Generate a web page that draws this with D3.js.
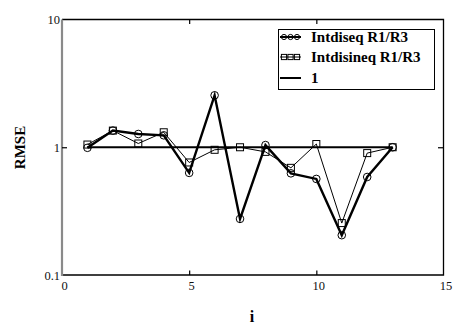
<!DOCTYPE html>
<meta charset="utf-8">
<script src="https://cdn.jsdelivr.net/npm/d3@7"></script>
<style>
body { margin: 0; background: #fff; }
.axis path.domain { display: none; }
.axis line { stroke: #000; }
</style>
<body>
<script>
// data
var idx = [1, 2, 3, 4, 5, 6, 7, 8, 9, 10, 11, 12, 13];
var intdiseq = [0.99, 1.35, 1.27, 1.24, 0.63, 2.55, 0.275, 1.04, 0.625, 0.565, 0.205, 0.585, 1.0];
var intdisineq = [1.05, 1.35, 1.07, 1.31, 0.76, 0.955, 1.0, 0.92, 0.69, 1.06, 0.255, 0.9, 1.0];
var one = [1, 1, 1, 1, 1, 1, 1, 1, 1, 1, 1, 1, 1];
var xTicks = [0, 5, 10, 15];
var yTicks = [0.1, 1, 10];
var legendNames = ["Intdiseq R1/R3", "Intdisineq R1/R3", "1"];

var W = 463, H = 334;
var L = 62, R = 443.5, T = 19.5, B = 275;
var serif = "'Liberation Serif', 'Times New Roman', serif";

var svg = d3.select("body").append("svg")
  .attr("width", W).attr("height", H)
  .style("font-family", serif);

var x = d3.scaleLinear().domain([0, 15]).range([L, R]);
var y = d3.scaleLog().domain([0.1, 10]).range([B, T]);

// frame (top, right, bottom black; left gray)
svg.append("path")
  .attr("d", "M" + L + "," + T + "H" + R + "V" + B + "H" + L)
  .attr("fill", "none").attr("stroke", "#000").attr("stroke-width", 1.3);
svg.append("line")
  .attr("x1", L).attr("x2", L).attr("y1", T).attr("y2", B + 1)
  .attr("stroke", "#8a8a8a").attr("stroke-width", 2.2);

// bottom axis (ticks inside)
var xa = svg.append("g").attr("class", "axis")
  .attr("transform", "translate(0," + B + ")")
  .call(d3.axisBottom(x).tickValues(xTicks).tickSize(-4.5).tickPadding(6).tickFormat(d3.format("d")));
xa.selectAll(".tick line").attr("stroke-width", 1.2)
  .filter(function(d) { return d == 0 || d == 15; }).remove();
xa.selectAll(".tick text").attr("dx", 2);

// top ticks
svg.append("g").attr("class", "axis")
  .attr("transform", "translate(0," + T + ")")
  .call(d3.axisTop(x).tickValues([5, 10]).tickSize(-4.5).tickFormat(""))
  .selectAll("line").attr("stroke-width", 1.2);

// left axis
var ya = svg.append("g").attr("class", "axis")
  .attr("transform", "translate(" + L + ",0)")
  .call(d3.axisLeft(y).tickValues(yTicks).tickSize(-5).tickPadding(2).tickFormat(function(d) { return d; }));
ya.selectAll(".tick line").attr("stroke-width", 1.2)
  .filter(function(d) { return d != 1; }).remove();
ya.selectAll(".tick text").attr("x", -2);

svg.selectAll(".axis").attr("font-family", null);
svg.selectAll(".tick text")
  .style("font-family", serif).style("font-size", "12.5px").attr("fill", "#111");

// right ticks
svg.append("g").attr("class", "axis")
  .attr("transform", "translate(" + R + ",0)")
  .call(d3.axisRight(y).tickValues([1]).tickSize(-5.5).tickFormat(""))
  .selectAll("line").attr("stroke-width", 1.2);

// axis titles
svg.append("text").text("i")
  .attr("x", 252).attr("y", 322)
  .attr("text-anchor", "middle").attr("font-weight", "bold")
  .style("font-family", serif).style("font-size", "16px");
svg.append("text").text("RMSE")
  .attr("transform", "translate(25,147.5) rotate(-90)")
  .attr("text-anchor", "middle").attr("font-weight", "bold")
  .style("font-family", serif).style("font-size", "15px");

var line = d3.line().x(function(d) { return x(d[0]); }).y(function(d) { return y(d[1]); });
function pairs(vals) { return idx.map(function(d, i) { return [d, vals[i]]; }); }

// series
svg.append("path").datum(pairs(one)).attr("d", line)
  .attr("fill", "none").attr("stroke", "#000").attr("stroke-width", 2.2);
svg.append("path").datum(pairs(intdisineq)).attr("d", line)
  .attr("fill", "none").attr("stroke", "#000").attr("stroke-width", 1);
svg.append("path").datum(pairs(intdiseq)).attr("d", line)
  .attr("fill", "none").attr("stroke", "#000").attr("stroke-width", 2.4);

svg.selectAll(".sq").data(pairs(intdisineq)).enter().append("rect")
  .attr("x", function(d) { return x(d[0]) - 3.5; })
  .attr("y", function(d) { return y(d[1]) - 3.5; })
  .attr("width", 7).attr("height", 7)
  .attr("fill", "none").attr("stroke", "#000").attr("stroke-width", 1);
svg.selectAll(".ci").data(pairs(intdiseq)).enter().append("circle")
  .attr("cx", function(d) { return x(d[0]); })
  .attr("cy", function(d) { return y(d[1]); })
  .attr("r", 3.8)
  .attr("fill", "none").attr("stroke", "#000").attr("stroke-width", 1);

// legend
var lg = svg.append("g");
lg.append("rect").attr("x", 278.5).attr("y", 29.5).attr("width", 156).attr("height", 60)
  .attr("fill", "#fff").attr("stroke", "#000").attr("stroke-width", 1);
var rowY = [37, 57, 78];
legendNames.forEach(function(name, i) {
  var yy = rowY[i];
  lg.append("line").attr("x1", 280).attr("x2", 301).attr("y1", yy).attr("y2", yy)
    .attr("stroke", "#000").attr("stroke-width", i == 1 ? 1 : 2);
  [284, 290.5, 297].forEach(function(cx) {
    if (i == 0) lg.append("circle").attr("cx", cx).attr("cy", yy).attr("r", 2.6)
      .attr("fill", "none").attr("stroke", "#000").attr("stroke-width", 1);
    if (i == 1) lg.append("rect").attr("x", cx - 2.6).attr("y", yy - 2.6).attr("width", 5.2).attr("height", 5.2)
      .attr("fill", "none").attr("stroke", "#000").attr("stroke-width", 1);
  });
  lg.append("text").text(name)
    .attr("x", 311).attr("y", yy + 5)
    .attr("font-weight", "bold")
    .style("font-family", serif).style("font-size", "15px");
});
</script>
</body>
